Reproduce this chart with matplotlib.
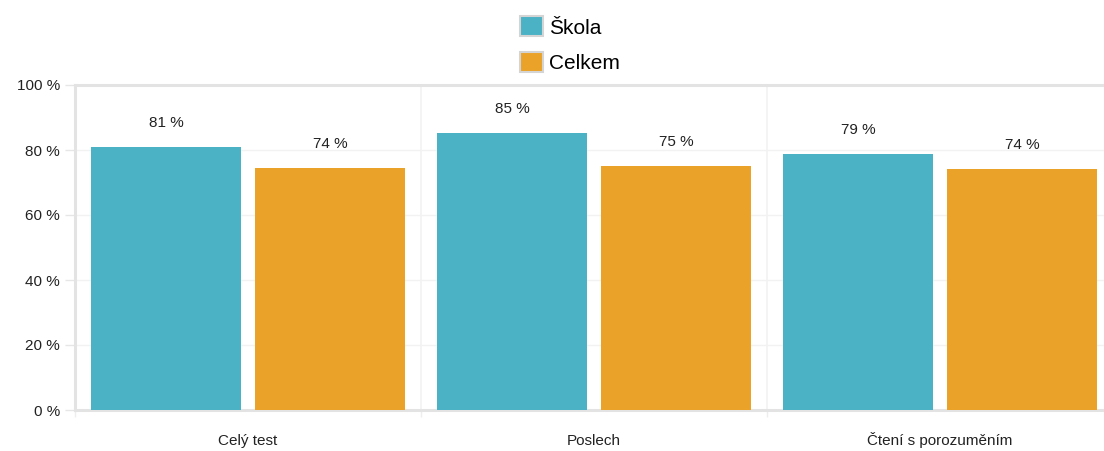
import matplotlib
matplotlib.use("Agg")
import matplotlib.pyplot as plt
from matplotlib.patches import Patch
import numpy as np

# data
categories = ["Celý test", "Poslech", "Čtení s porozuměním"]
skola = [80.9, 85.2, 78.8]
celkem = [74.4, 75.0, 74.2]
series_names = ["Škola", "Celkem"]
y_ticks = [0, 20, 40, 60, 80, 100]

teal = "#4bb2c5"
orange = "#eaa228"
grid_col = "#f2f2f2"
border_col = "#e3e3e3"
font = "Liberation Sans"

fig = plt.figure(figsize=(11.04, 4.51), dpi=100)
ax = fig.add_axes([75 / 1104, 41 / 451, 1038 / 1104, 325 / 451])

x = np.arange(len(categories))
w = 0.434
off = 0.237
b1 = ax.bar(x - off, skola, w, color=teal, zorder=3)
b2 = ax.bar(x + off, celkem, w, color=orange, zorder=3)

for bars, vals in ((b1, skola), (b2, celkem)):
    for rect, v in zip(bars, vals):
        ax.annotate(f"{round(v)} %", (rect.get_x() + rect.get_width() / 2, v),
                    xytext=(0, 17.5), textcoords="offset points",
                    ha="center", va="center", fontsize=11,
                    family=font, color="#222222")

ax.set_xlim(-0.5, 2.5)
ax.set_ylim(0, 100)

ax.set_yticks(y_ticks)
ax.set_yticklabels([f"{t} %" for t in y_ticks], family=font, fontsize=11, color="#222222")
ax.tick_params(axis="y", length=7.2, width=1, color="#e6e6e6", pad=3.5)

ax.set_xticks(x)
ax.set_xticklabels(categories, family=font, fontsize=11, color="#222222", va="baseline")
ax.tick_params(axis="x", which="major", length=0, pad=25)
ax.set_xticks([-0.5, 0.5, 1.5, 2.5], minor=True)
ax.tick_params(axis="x", which="minor", length=5, color="#eeeeee", width=1)

# grid
for t in y_ticks[1:-1]:
    ax.axhline(t, color=grid_col, lw=1, zorder=1)
for b in [0.5, 1.5]:
    ax.axvline(b, color=grid_col, lw=1.2, zorder=1)

for s in ["top", "left", "bottom"]:
    ax.spines[s].set_color(border_col)
    ax.spines[s].set_linewidth(2.2)
ax.spines["right"].set_visible(False)

handles = [Patch(facecolor=teal, edgecolor="#d4d4d4", linewidth=1.5),
           Patch(facecolor=orange, edgecolor="#d4d4d4", linewidth=1.5)]
fig.legend(handles, series_names, loc="upper center", bbox_to_anchor=(0.516, 1.005),
           ncol=1, frameon=False, prop={"family": font, "size": 15},
           handlelength=1.1, handleheight=1.1, handletextpad=0.3, labelspacing=0.68)

fig.savefig("out.png", dpi=100)
